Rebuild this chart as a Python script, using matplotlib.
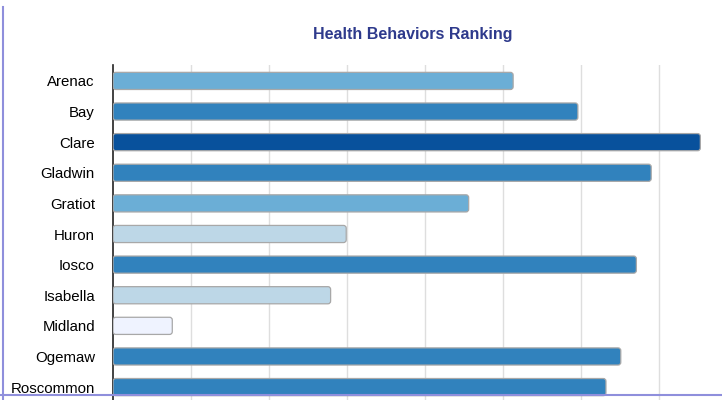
import matplotlib.pyplot as plt
from matplotlib.patches import FancyBboxPatch
from matplotlib.lines import Line2D

counties = ["Arenac", "Bay", "Clare", "Gladwin", "Gratiot", "Huron", "Iosco",
            "Isabella", "Midland", "Ogemaw", "Roscommon"]
ranks = [51.3, 59.6, 75.3, 69.0, 45.6, 29.9, 67.1, 27.9, 7.6, 65.1, 63.2]
colors = ["#6baed6", "#3182bd", "#08519c", "#3182bd", "#6baed6", "#bdd7e7",
          "#3182bd", "#bdd7e7", "#eff3ff", "#3182bd", "#3182bd"]

plt.rcParams['font.family'] = ['Liberation Sans', 'DejaVu Sans']

fig = plt.figure(figsize=(7.22, 4.0), dpi=100)
# axes runs past the bottom/right edge, the original is cropped
ax = fig.add_axes([113/722, -3/400, (737-113)/722, (403-65)/400])

y = list(range(len(counties)))
bars = ax.barh(y, ranks, height=0.56, color=colors)

# swap the plain rectangles for rounded ones
for b in bars:
    b.set_visible(False)
    p = FancyBboxPatch((b.get_x(), b.get_y()), b.get_width(), b.get_height(),
                       boxstyle="round,pad=0,rounding_size=0.35",
                       mutation_aspect=0.255,
                       facecolor=b.get_facecolor(), edgecolor="#a8a8a8",
                       linewidth=0.9, zorder=3)
    ax.add_patch(p)

ax.set_xlim(0, 80)
ax.set_ylim(10.52, -0.52)
ax.set_yticks(y)
ax.set_yticklabels(counties, fontsize=10.8)
ax.tick_params(axis='y', length=0, pad=13)
ax.set_xticks([10, 20, 30, 40, 50, 60, 70, 80])
ax.tick_params(axis='x', length=0, labelbottom=False)
ax.grid(axis='x', color="#dedede", linewidth=1, zorder=0)
ax.set_axisbelow(True)
for s in ["top", "right", "bottom"]:
    ax.spines[s].set_visible(False)
ax.spines["left"].set_color("#222222")
ax.spines["left"].set_linewidth(1.2)

fig.text(413/722, 1 - 34/400, "Health Behaviors Ranking", ha="center",
         va="center", fontsize=11.5, fontweight="bold", color="#2e3a8c")

# frame lines around the panel
fig.add_artist(Line2D([3.5/722, 3.5/722], [0, 1 - 7/400], color="#8f8fdc", linewidth=1.5))
fig.add_artist(Line2D([0, 1], [1 - 394.5/400, 1 - 394.5/400], color="#8f8fdc", linewidth=1.5))

fig.savefig("out.png", dpi=100)
